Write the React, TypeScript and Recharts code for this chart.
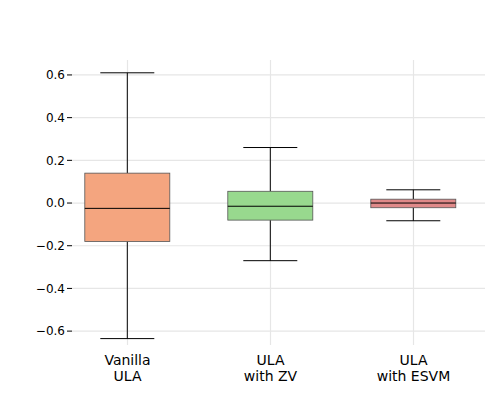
import React from "react";
import { ComposedChart, Bar, XAxis, YAxis, CartesianGrid, Cell } from "recharts";

const categories = ["Vanilla\nULA", "ULA\nwith ZV", "ULA\nwith ESVM"];
const whiskerLow = [-0.635, -0.27, -0.083];
const q1 = [-0.18, -0.08, -0.022];
const medians = [-0.025, -0.015, 0.0];
const q3 = [0.14, 0.055, 0.018];
const whiskerHigh = [0.61, 0.26, 0.062];
const colors = ["#F4A57F", "#98D98E", "#E08A8A"];
const yTicks = [-0.6, -0.4, -0.2, 0, 0.2, 0.4, 0.6];

const data = categories.map((c, i) => ({
  name: c,
  range: [whiskerLow[i], whiskerHigh[i]],
  lo: whiskerLow[i], q1: q1[i], med: medians[i], q3: q3[i], hi: whiskerHigh[i],
}));

const BoxShape = (props: any) => {
  const { x, y, width, height, payload, fill } = props;
  const ppu = height / (payload.hi - payload.lo);
  const py = (v: number) => y + (payload.hi - v) * ppu;
  const cx = x + width / 2;
  const bw = 85, cw = 54;
  return (
    <g>
      <line x1={cx} x2={cx} y1={py(payload.hi)} y2={py(payload.q3)} stroke="#000" />
      <line x1={cx} x2={cx} y1={py(payload.q1)} y2={py(payload.lo)} stroke="#000" />
      <line x1={cx - cw / 2} x2={cx + cw / 2} y1={py(payload.hi)} y2={py(payload.hi)} stroke="#000" />
      <line x1={cx - cw / 2} x2={cx + cw / 2} y1={py(payload.lo)} y2={py(payload.lo)} stroke="#000" />
      <rect x={cx - bw / 2} y={py(payload.q3)} width={bw} height={py(payload.q1) - py(payload.q3)} fill={fill} stroke="#555" strokeWidth={0.8} />
      <line x1={cx - bw / 2} x2={cx + bw / 2} y1={py(payload.med)} y2={py(payload.med)} stroke="#000" />
    </g>
  );
};

const XTick = (props: any) => {
  const { x, y, payload } = props;
  const lines = String(payload.value).split("\n");
  return (
    <text x={x} y={y + 12} textAnchor="middle" fontSize={14} fill="#000" fontFamily="DejaVu Sans">
      {lines.map((l, i) => (
        <tspan key={i} x={x} dy={i === 0 ? 0 : 16}>{l}</tspan>
      ))}
    </text>
  );
};

export default function App() {
  return (
    <div style={{ position: "absolute", left: 0, top: 0, background: "#fff" }}>
      <ComposedChart width={500} height={400} data={data} margin={{ top: 60, right: 15, left: 0, bottom: 0 }}>
        <CartesianGrid stroke="#e6e6e6" strokeWidth={1.2} syncWithTicks />
        <XAxis dataKey="name" axisLine={false} tickLine={false} tick={<XTick />} height={55} interval={0} padding={{ left: -16, right: 0 }} />
        <YAxis
          width={72}
          domain={[-0.665, 0.67]}
          ticks={yTicks}
          axisLine={false}
          tickLine={{ stroke: "#000" }}
          tickSize={5}
          tick={{ fontSize: 12, fill: "#000", fontFamily: "DejaVu Sans" }}
          tickFormatter={(v: number) => v.toFixed(1).replace("-", "\u2212")}
        />
        <Bar dataKey="range" isAnimationActive={false} shape={<BoxShape />}>
          {data.map((d, i) => <Cell key={i} fill={colors[i]} />)}
        </Bar>
      </ComposedChart>
    </div>
  );
}
